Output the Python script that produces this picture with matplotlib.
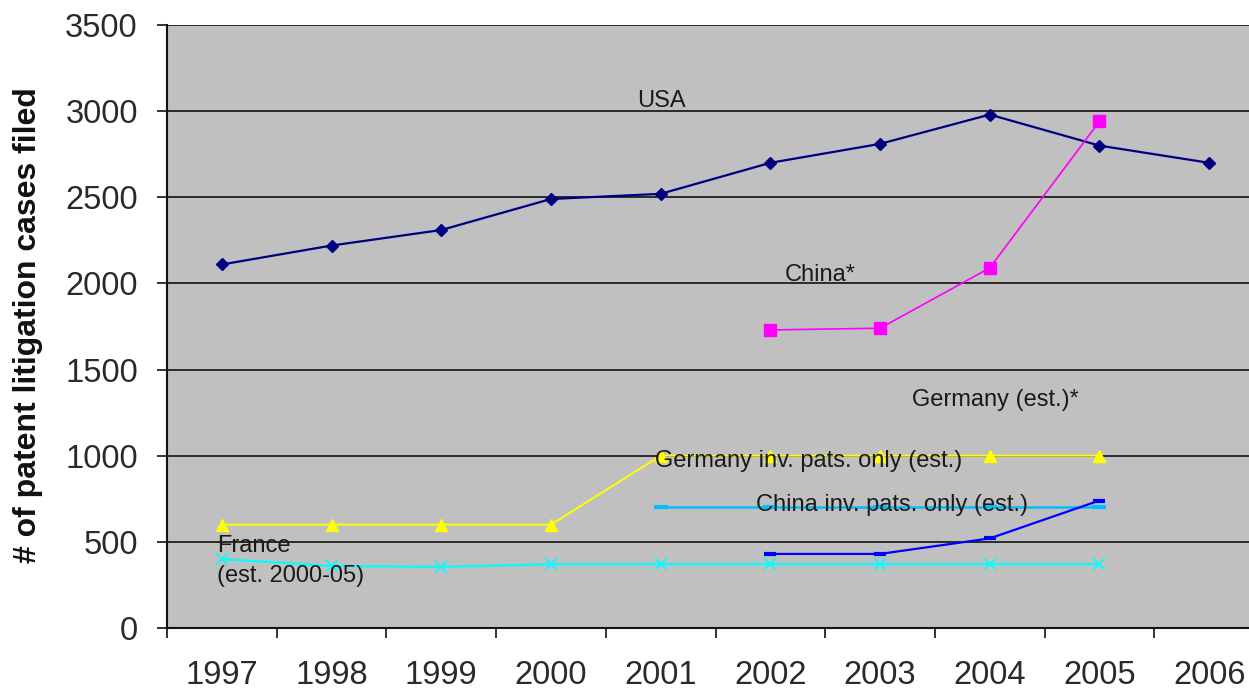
import matplotlib
matplotlib.use('Agg')
import matplotlib.pyplot as plt

# Data.
years = ['1997', '1998', '1999', '2000', '2001', '2002', '2003', '2004', '2005', '2006']
usa = [2110, 2220, 2310, 2490, 2520, 2700, 2810, 2980, 2800, 2700]
china_years = [5, 6, 7, 8]
china = [1730, 1740, 2090, 2940]
germany_years = [0, 1, 2, 3, 4, 5, 6, 7, 8]
germany = [600, 600, 600, 600, 1000, 1000, 1000, 1000, 1000]
france_years = [0, 1, 2, 3, 4, 5, 6, 7, 8]
france = [400, 360, 355, 370, 370, 370, 370, 370, 370]
china_inv_years = [4, 5, 6, 7, 8]
china_inv = [700, 700, 700, 700, 700]
china_inv2_years = [5, 6, 7, 8]
china_inv2 = [430, 430, 520, 740]

yticks = [0, 500, 1000, 1500, 2000, 2500, 3000, 3500]

plt.rcParams['font.family'] = ['Liberation Sans', 'DejaVu Sans']

fig = plt.figure(figsize=(12.49, 6.92), dpi=100)
ax = fig.add_axes([167/1249, 64/692, 1097/1249, 603/692])
ax.set_facecolor('#c0c0c0')

# Grid lines.
for yv in yticks[1:]:
    ax.axhline(yv, color='#2a2a2a', linewidth=1.4, zorder=1)

# Series.
ax.plot(range(len(years)), usa, color='#000080', marker='D', markersize=6, linewidth=1.6, zorder=3)
ax.plot(china_years, china, color='#ff00ff', marker='s', markersize=9, linewidth=1.2, zorder=3)
ax.plot(germany_years, germany, color='#ffff00', marker='^', markersize=9, linewidth=1.4, zorder=3)
ax.plot(france_years, france, color='#00ffff', marker='x', markersize=9, markeredgewidth=1.2, linewidth=1.6, zorder=3)
ax.plot(china_inv_years, china_inv, color='#00bfff', marker='_', markersize=10, markeredgewidth=3, linewidth=1.8, zorder=3)
ax.plot(china_inv2_years, china_inv2, color='#0000ff', marker='_', markersize=8, markeredgewidth=3, linewidth=1.6, zorder=3)

# Series labels.
lab = dict(fontsize=17, color='#1a1a1a', zorder=5, va='center', ha='left')
ax.text(3.79, 3060, 'USA', **lab)
ax.text(5.13, 2050, 'China*', **lab)
ax.text(6.29, 1325, 'Germany (est.)*', **lab)
ax.text(3.95, 970, 'Germany inv. pats. only (est.)', **lab)
ax.text(4.87, 715, 'China inv. pats. only (est.)', **lab)
ax.text(-0.045, 390, 'France\n(est. 2000-05)', linespacing=1.45, **lab)

# Axes.
ax.set_xlim(-0.5, 9.5)
ax.set_ylim(0, 3500)
ax.set_yticks(yticks)
ax.set_yticklabels([str(v) for v in yticks])
ax.set_xticks([i - 0.5 for i in range(len(years))], minor=False)
ax.set_xticklabels([])
ax.set_xticks(range(len(years)), minor=True)
ax.set_xticklabels(years, minor=True)
ax.tick_params(axis='x', which='major', direction='out', length=7, width=1.3, color='#222222')
ax.tick_params(axis='x', which='minor', length=0, pad=23, labelsize=23.5, labelcolor='#2a2a2a')
ax.tick_params(axis='y', direction='out', length=7, width=1.3, pad=14, labelsize=23.5,
               labelcolor='#2a2a2a', color='#222222')

for side in ['top', 'right']:
    ax.spines[side].set_visible(False)
for side in ['left', 'bottom']:
    ax.spines[side].set_color('#111111')
    ax.spines[side].set_linewidth(1.5)

fig.text(28/1249, 1 - 325/692, '# of patent litigation cases filed', rotation=90,
         fontsize=23, fontweight='bold', color='#111111', ha='center', va='center')

fig.savefig('out.png', dpi=100)
